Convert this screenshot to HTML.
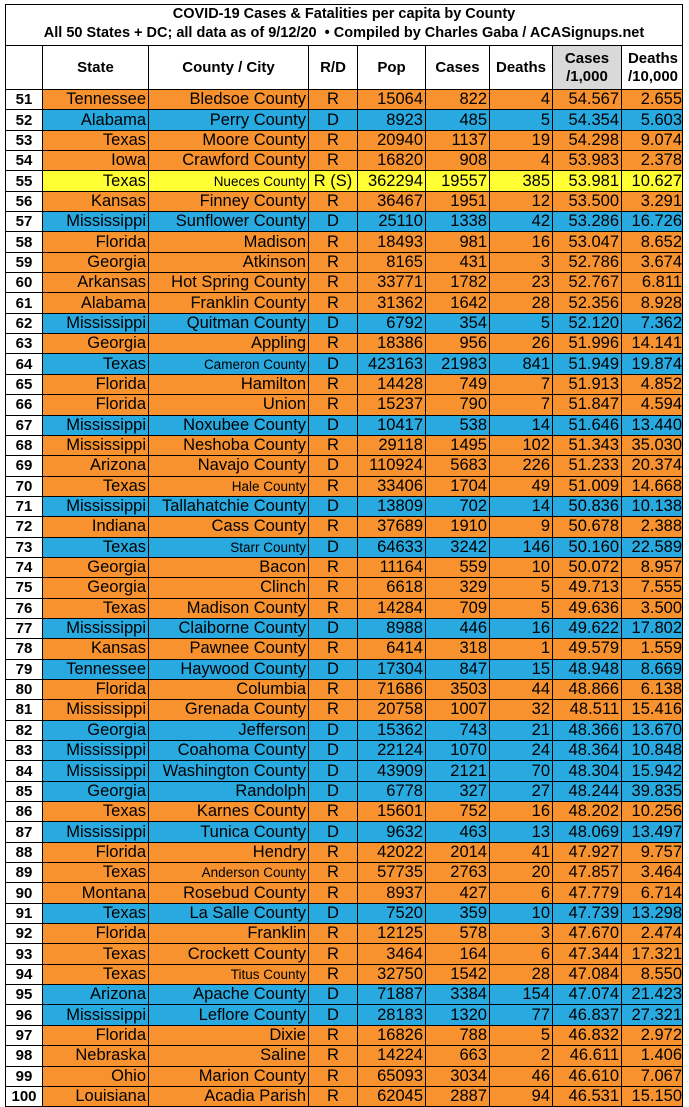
<!DOCTYPE html>
<html><head><meta charset="utf-8"><style>
body{margin:0;background:#fff;width:689px;height:1107px;overflow:hidden;font-family:"Liberation Sans Narrow","Liberation Sans",Arial,sans-serif;}
#t{position:absolute;left:5px;top:4px;width:678px;border:1.5px solid #000;box-sizing:border-box;}
.ti{height:40px;text-align:center;font-family:"Liberation Sans",sans-serif;font-weight:bold;font-size:14.5px;line-height:19px;border-bottom:1px solid #000;background:#fff}
.g{display:grid;grid-template-columns:37px 106px 160px 49px 68px 64px 63px 69px 62px;}
.h{height:43px;font-family:"Liberation Sans",sans-serif;font-weight:bold;font-size:15px;background:#fff}
.h div{display:flex;align-items:center;justify-content:center;text-align:center;border-right:1px solid #000;line-height:18px}
.h div:last-child{border-right:none}
.h .gr{background:#d9d9d9}
.rows{display:flex;flex-direction:column;height:1017px}
.r{flex:1;border-top:1px solid #000;font-size:16.5px;}
.r div{border-right:1px solid #000;text-align:right;padding-right:2px;display:flex;align-items:center;justify-content:flex-end;white-space:nowrap;overflow:hidden}
.r div:last-child{border-right:none}
.r div:first-child{background:#fff;font-weight:bold;justify-content:center;font-family:"Liberation Sans",sans-serif;font-size:15px;padding:0}
.r div:nth-child(4){justify-content:center;padding:0}
.o{background:#f7922f}.b{background:#28a9e0}.y{background:#ffff33}
.r div.s{font-size:13.5px}
</style></head><body>
<div id="t">
<div class="ti">COVID-19 Cases &amp; Fatalities per capita by County<br>All 50 States + DC; all data as of 9/12/20 &nbsp;• Compiled by Charles Gaba / ACASignups.net</div>
<div class="g h"><div></div><div>State</div><div>County / City</div><div>R/D</div><div>Pop</div><div>Cases</div><div>Deaths</div><div class="gr">Cases<br>/1,000</div><div>Deaths<br>/10,000</div></div>
<div class="rows">
<div class="g r o"><div>51</div><div>Tennessee</div><div>Bledsoe County</div><div>R</div><div>15064</div><div>822</div><div>4</div><div>54.567</div><div>2.655</div></div>
<div class="g r b"><div>52</div><div>Alabama</div><div>Perry County</div><div>D</div><div>8923</div><div>485</div><div>5</div><div>54.354</div><div>5.603</div></div>
<div class="g r o"><div>53</div><div>Texas</div><div>Moore County</div><div>R</div><div>20940</div><div>1137</div><div>19</div><div>54.298</div><div>9.074</div></div>
<div class="g r o"><div>54</div><div>Iowa</div><div>Crawford County</div><div>R</div><div>16820</div><div>908</div><div>4</div><div>53.983</div><div>2.378</div></div>
<div class="g r y"><div>55</div><div>Texas</div><div class="s">Nueces County</div><div>R (S)</div><div>362294</div><div>19557</div><div>385</div><div>53.981</div><div>10.627</div></div>
<div class="g r o"><div>56</div><div>Kansas</div><div>Finney County</div><div>R</div><div>36467</div><div>1951</div><div>12</div><div>53.500</div><div>3.291</div></div>
<div class="g r b"><div>57</div><div>Mississippi</div><div>Sunflower County</div><div>D</div><div>25110</div><div>1338</div><div>42</div><div>53.286</div><div>16.726</div></div>
<div class="g r o"><div>58</div><div>Florida</div><div>Madison</div><div>R</div><div>18493</div><div>981</div><div>16</div><div>53.047</div><div>8.652</div></div>
<div class="g r o"><div>59</div><div>Georgia</div><div>Atkinson</div><div>R</div><div>8165</div><div>431</div><div>3</div><div>52.786</div><div>3.674</div></div>
<div class="g r o"><div>60</div><div>Arkansas</div><div>Hot Spring County</div><div>R</div><div>33771</div><div>1782</div><div>23</div><div>52.767</div><div>6.811</div></div>
<div class="g r o"><div>61</div><div>Alabama</div><div>Franklin County</div><div>R</div><div>31362</div><div>1642</div><div>28</div><div>52.356</div><div>8.928</div></div>
<div class="g r b"><div>62</div><div>Mississippi</div><div>Quitman County</div><div>D</div><div>6792</div><div>354</div><div>5</div><div>52.120</div><div>7.362</div></div>
<div class="g r o"><div>63</div><div>Georgia</div><div>Appling</div><div>R</div><div>18386</div><div>956</div><div>26</div><div>51.996</div><div>14.141</div></div>
<div class="g r b"><div>64</div><div>Texas</div><div class="s">Cameron County</div><div>D</div><div>423163</div><div>21983</div><div>841</div><div>51.949</div><div>19.874</div></div>
<div class="g r o"><div>65</div><div>Florida</div><div>Hamilton</div><div>R</div><div>14428</div><div>749</div><div>7</div><div>51.913</div><div>4.852</div></div>
<div class="g r o"><div>66</div><div>Florida</div><div>Union</div><div>R</div><div>15237</div><div>790</div><div>7</div><div>51.847</div><div>4.594</div></div>
<div class="g r b"><div>67</div><div>Mississippi</div><div>Noxubee County</div><div>D</div><div>10417</div><div>538</div><div>14</div><div>51.646</div><div>13.440</div></div>
<div class="g r o"><div>68</div><div>Mississippi</div><div>Neshoba County</div><div>R</div><div>29118</div><div>1495</div><div>102</div><div>51.343</div><div>35.030</div></div>
<div class="g r o"><div>69</div><div>Arizona</div><div>Navajo County</div><div>D</div><div>110924</div><div>5683</div><div>226</div><div>51.233</div><div>20.374</div></div>
<div class="g r o"><div>70</div><div>Texas</div><div class="s">Hale County</div><div>R</div><div>33406</div><div>1704</div><div>49</div><div>51.009</div><div>14.668</div></div>
<div class="g r b"><div>71</div><div>Mississippi</div><div>Tallahatchie County</div><div>D</div><div>13809</div><div>702</div><div>14</div><div>50.836</div><div>10.138</div></div>
<div class="g r o"><div>72</div><div>Indiana</div><div>Cass County</div><div>R</div><div>37689</div><div>1910</div><div>9</div><div>50.678</div><div>2.388</div></div>
<div class="g r b"><div>73</div><div>Texas</div><div class="s">Starr County</div><div>D</div><div>64633</div><div>3242</div><div>146</div><div>50.160</div><div>22.589</div></div>
<div class="g r o"><div>74</div><div>Georgia</div><div>Bacon</div><div>R</div><div>11164</div><div>559</div><div>10</div><div>50.072</div><div>8.957</div></div>
<div class="g r o"><div>75</div><div>Georgia</div><div>Clinch</div><div>R</div><div>6618</div><div>329</div><div>5</div><div>49.713</div><div>7.555</div></div>
<div class="g r o"><div>76</div><div>Texas</div><div>Madison County</div><div>R</div><div>14284</div><div>709</div><div>5</div><div>49.636</div><div>3.500</div></div>
<div class="g r b"><div>77</div><div>Mississippi</div><div>Claiborne County</div><div>D</div><div>8988</div><div>446</div><div>16</div><div>49.622</div><div>17.802</div></div>
<div class="g r o"><div>78</div><div>Kansas</div><div>Pawnee County</div><div>R</div><div>6414</div><div>318</div><div>1</div><div>49.579</div><div>1.559</div></div>
<div class="g r b"><div>79</div><div>Tennessee</div><div>Haywood County</div><div>D</div><div>17304</div><div>847</div><div>15</div><div>48.948</div><div>8.669</div></div>
<div class="g r o"><div>80</div><div>Florida</div><div>Columbia</div><div>R</div><div>71686</div><div>3503</div><div>44</div><div>48.866</div><div>6.138</div></div>
<div class="g r o"><div>81</div><div>Mississippi</div><div>Grenada County</div><div>R</div><div>20758</div><div>1007</div><div>32</div><div>48.511</div><div>15.416</div></div>
<div class="g r b"><div>82</div><div>Georgia</div><div>Jefferson</div><div>D</div><div>15362</div><div>743</div><div>21</div><div>48.366</div><div>13.670</div></div>
<div class="g r b"><div>83</div><div>Mississippi</div><div>Coahoma County</div><div>D</div><div>22124</div><div>1070</div><div>24</div><div>48.364</div><div>10.848</div></div>
<div class="g r b"><div>84</div><div>Mississippi</div><div>Washington County</div><div>D</div><div>43909</div><div>2121</div><div>70</div><div>48.304</div><div>15.942</div></div>
<div class="g r b"><div>85</div><div>Georgia</div><div>Randolph</div><div>D</div><div>6778</div><div>327</div><div>27</div><div>48.244</div><div>39.835</div></div>
<div class="g r o"><div>86</div><div>Texas</div><div>Karnes County</div><div>R</div><div>15601</div><div>752</div><div>16</div><div>48.202</div><div>10.256</div></div>
<div class="g r b"><div>87</div><div>Mississippi</div><div>Tunica County</div><div>D</div><div>9632</div><div>463</div><div>13</div><div>48.069</div><div>13.497</div></div>
<div class="g r o"><div>88</div><div>Florida</div><div>Hendry</div><div>R</div><div>42022</div><div>2014</div><div>41</div><div>47.927</div><div>9.757</div></div>
<div class="g r o"><div>89</div><div>Texas</div><div class="s">Anderson County</div><div>R</div><div>57735</div><div>2763</div><div>20</div><div>47.857</div><div>3.464</div></div>
<div class="g r o"><div>90</div><div>Montana</div><div>Rosebud County</div><div>R</div><div>8937</div><div>427</div><div>6</div><div>47.779</div><div>6.714</div></div>
<div class="g r b"><div>91</div><div>Texas</div><div>La Salle County</div><div>D</div><div>7520</div><div>359</div><div>10</div><div>47.739</div><div>13.298</div></div>
<div class="g r o"><div>92</div><div>Florida</div><div>Franklin</div><div>R</div><div>12125</div><div>578</div><div>3</div><div>47.670</div><div>2.474</div></div>
<div class="g r o"><div>93</div><div>Texas</div><div>Crockett County</div><div>R</div><div>3464</div><div>164</div><div>6</div><div>47.344</div><div>17.321</div></div>
<div class="g r o"><div>94</div><div>Texas</div><div class="s">Titus County</div><div>R</div><div>32750</div><div>1542</div><div>28</div><div>47.084</div><div>8.550</div></div>
<div class="g r b"><div>95</div><div>Arizona</div><div>Apache County</div><div>D</div><div>71887</div><div>3384</div><div>154</div><div>47.074</div><div>21.423</div></div>
<div class="g r b"><div>96</div><div>Mississippi</div><div>Leflore County</div><div>D</div><div>28183</div><div>1320</div><div>77</div><div>46.837</div><div>27.321</div></div>
<div class="g r o"><div>97</div><div>Florida</div><div>Dixie</div><div>R</div><div>16826</div><div>788</div><div>5</div><div>46.832</div><div>2.972</div></div>
<div class="g r o"><div>98</div><div>Nebraska</div><div>Saline</div><div>R</div><div>14224</div><div>663</div><div>2</div><div>46.611</div><div>1.406</div></div>
<div class="g r o"><div>99</div><div>Ohio</div><div>Marion County</div><div>R</div><div>65093</div><div>3034</div><div>46</div><div>46.610</div><div>7.067</div></div>
<div class="g r o"><div>100</div><div>Louisiana</div><div>Acadia Parish</div><div>R</div><div>62045</div><div>2887</div><div>94</div><div>46.531</div><div>15.150</div></div>
</div></div>
</body></html>
